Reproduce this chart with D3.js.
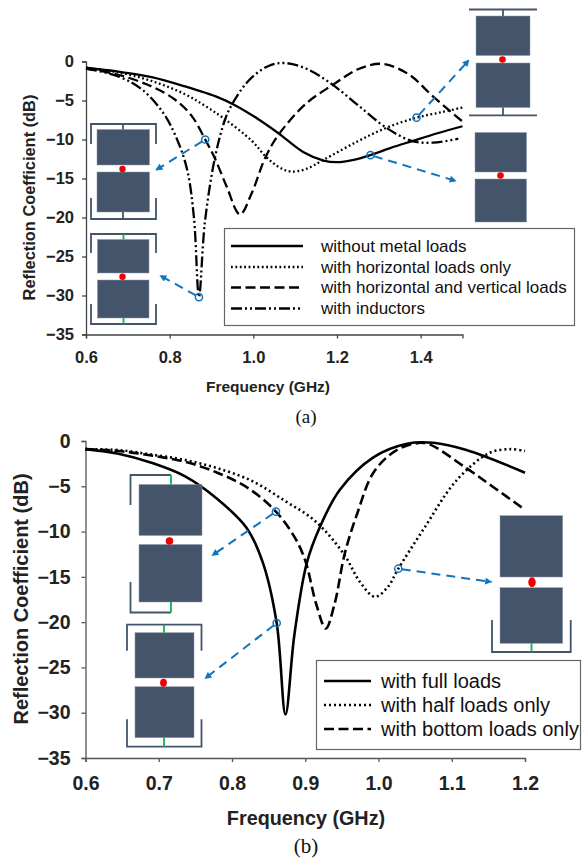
<!DOCTYPE html>
<html>
<head>
<meta charset="utf-8">
<script src="https://cdn.jsdelivr.net/npm/d3@7"></script>
<style>
  html, body { margin: 0; padding: 0; background: #fff; }
  svg { display: block; font-family: "Liberation Sans", Arial, sans-serif; }
</style>
</head>
<body>
<svg id="chart"></svg>
<script>
// Panel (a) values, [GHz, dB]
const noLoads = [[0.6,-0.8],[0.677,-1.3],[0.757,-2.0],[0.837,-3.2],[0.916,-4.6],[0.956,-5.6],[1.012,-7.4],[1.06,-9.2],[1.119,-11.6],[1.168,-12.7],[1.2,-12.9],[1.24,-12.6],[1.28,-12.0],[1.327,-11.1],[1.38,-10.2],[1.44,-9.2],[1.5,-8.3]];
const horizontalOnly = [[0.6,-0.8],[0.677,-1.4],[0.757,-2.5],[0.837,-4.2],[0.885,-5.7],[0.932,-7.4],[0.997,-10.2],[1.03,-12.2],[1.06,-13.5],[1.088,-14.1],[1.125,-13.8],[1.168,-12.6],[1.247,-10.3],[1.318,-8.5],[1.39,-7.2],[1.45,-6.5],[1.5,-5.9]];
const horizontalVertical = [[0.6,-0.9],[0.677,-1.7],[0.757,-3.2],[0.813,-4.9],[0.853,-7.0],[0.885,-10.0],[0.908,-12.4],[0.936,-16.0],[0.968,-19.6],[0.996,-16.9],[1.028,-12.4],[1.06,-9.4],[1.128,-5.3],[1.19,-3.0],[1.25,-1.0],[1.307,-0.3],[1.37,-1.6],[1.43,-4.5],[1.5,-7.7]];
const withInductors = [[0.6,-0.9],[0.677,-1.9],[0.734,-3.6],[0.782,-6.4],[0.813,-9.4],[0.841,-13.7],[0.858,-20.0],[0.87,-30.2],[0.884,-20.7],[0.908,-12.4],[0.932,-7.5],[0.949,-5.5],[0.988,-2.5],[1.035,-0.6],[1.076,-0.2],[1.13,-1.0],[1.19,-3.0],[1.25,-5.6],[1.318,-8.5],[1.38,-10.2],[1.43,-10.4],[1.49,-9.9]];

// Panel (b) values
const fullLoads = [[0.6,-0.9],[0.645,-1.4],[0.69,-2.4],[0.736,-3.9],[0.78,-6.4],[0.82,-9.6],[0.842,-13.4],[0.861,-20.1],[0.873,-30.2],[0.885,-21.5],[0.902,-13.5],[0.92,-9.5],[0.947,-5.4],[0.993,-1.8],[1.039,-0.3],[1.075,-0.2],[1.12,-1.0],[1.2,-3.5]];
const halfLoads = [[0.6,-0.9],[0.645,-1.0],[0.69,-1.5],[0.736,-2.1],[0.78,-3.0],[0.827,-4.4],[0.872,-6.6],[0.913,-8.8],[0.952,-12.4],[0.975,-15.6],[0.995,-17.2],[1.012,-16.2],[1.027,-14.1],[1.061,-9.8],[1.107,-4.3],[1.152,-1.3],[1.18,-0.9],[1.2,-1.1]];
const bottomLoads = [[0.6,-0.9],[0.645,-1.1],[0.69,-1.6],[0.736,-2.3],[0.78,-3.5],[0.822,-5.2],[0.86,-7.8],[0.886,-10.7],[0.9,-13.2],[0.915,-18.0],[0.928,-20.7],[0.94,-18.0],[0.954,-12.4],[0.971,-8.0],[0.993,-3.5],[1.021,-1.2],[1.048,-0.3],[1.067,-0.3],[1.12,-3.0],[1.157,-5.1],[1.2,-7.6]];

const topXTicks = [0.6, 0.8, 1.0, 1.2, 1.4];
const bottomXTicks = [0.6, 0.7, 0.8, 0.9, 1.0, 1.1, 1.2];
const yTicks = [0, -5, -10, -15, -20, -25, -30, -35];

const topLegend = ['without metal loads', 'with horizontal loads only', 'with horizontal and vertical loads', 'with inductors'];
const bottomLegend = ['with full loads', 'with half loads only', 'with bottom loads only'];

const width = 582, height = 860;
const SOLID = null, DOTTED = '1.8 2.6', DOTTED_B = '2 3', DASHED = '10 4.5', DASHDOT = '11 3 2 3 2 3';
const BLUE = '#0f75bd', PATCH = '#44546a', GREEN = '#12b050';

const svg = d3.select('#chart')
  .attr('width', width)
  .attr('height', height)
  .attr('viewBox', [0, 0, width, height]);

const defs = svg.append('defs');
defs.append('marker')
  .attr('id', 'arrow')
  .attr('viewBox', '0 0 10 10')
  .attr('refX', 9)
  .attr('refY', 5)
  .attr('markerWidth', 8)
  .attr('markerHeight', 7)
  .attr('markerUnits', 'userSpaceOnUse')
  .attr('orient', 'auto')
.append('path')
  .attr('d', 'M0,0 L10,5 L0,10 Z')
  .attr('fill', BLUE);

const line = (x, y) => d3.line()
  .x(d => x(d[0]))
  .y(d => y(d[1]))
  .curve(d3.curveCatmullRom.alpha(0.5));

// Draws one panel's axes and curves, returns its scales
function drawPanel({ xDomain, xRange, yRange, xTicks, series, tickSize, yPad, xPad, lineWidth, axisColor, xTitle, yTitle }) {
  const x = d3.scaleLinear(xDomain, xRange);
  const y = d3.scaleLinear([0, -35], yRange);

  svg.append('g')
    .attr('transform', `translate(${xRange[0]},0)`)
    .call(d3.axisLeft(y).tickValues(yTicks).tickSize(4).tickPadding(yPad).tickFormat(d3.format('d')))
    .call(g => g.selectAll('.domain,.tick line').attr('stroke', axisColor).attr('stroke-width', 1.3))
    .call(g => g.selectAll('text').attr('font-size', tickSize).attr('font-weight', 'bold').attr('fill', '#222'));

  svg.append('g')
    .attr('transform', `translate(0,${yRange[1]})`)
    .call(d3.axisBottom(x).tickValues(xTicks).tickSize(4).tickPadding(xPad).tickFormat(d3.format('.1f')))
    .call(g => g.selectAll('.domain,.tick line').attr('stroke', axisColor).attr('stroke-width', 1.3))
    .call(g => g.selectAll('text').attr('font-size', tickSize).attr('font-weight', 'bold').attr('fill', '#222'));

  svg.append('text')
    .attr('x', xTitle.x).attr('y', xTitle.y)
    .attr('text-anchor', 'middle')
    .attr('font-size', xTitle.size).attr('font-weight', 'bold').attr('fill', '#222')
    .text('Frequency (GHz)');

  svg.append('text')
    .attr('transform', `translate(${yTitle.x},${yTitle.y}) rotate(-90)`)
    .attr('text-anchor', 'middle')
    .attr('font-size', yTitle.size).attr('font-weight', 'bold').attr('fill', '#222')
    .text('Reflection Coefficient (dB)');

  svg.append('g')
    .selectAll('path')
    .data(series)
    .join('path')
    .attr('d', d => line(x, y)(d.values))
    .attr('fill', 'none')
    .attr('stroke', '#000')
    .attr('stroke-width', lineWidth)
    .attr('stroke-dasharray', d => d.dash);

  return { x, y };
}

function drawLegend({ x, y, w, h, labels, dashes, rowY, lineX, textX, size, lineWidth }) {
  const g = svg.append('g');
  g.append('rect')
    .attr('x', x).attr('y', y).attr('width', w).attr('height', h)
    .attr('fill', '#fff').attr('stroke', '#666').attr('stroke-width', 1.2);
  labels.forEach((label, i) => {
    g.append('line')
      .attr('x1', lineX[0]).attr('x2', lineX[1])
      .attr('y1', rowY[i]).attr('y2', rowY[i])
      .attr('stroke', '#000').attr('stroke-width', lineWidth)
      .attr('stroke-dasharray', dashes[i]);
    g.append('text')
      .attr('x', textX).attr('y', rowY[i])
      .attr('dy', '0.35em')
      .attr('font-size', size).attr('fill', '#111')
      .text(label);
  });
}

// Blue ring on a curve and the dashed arrow from it to an inset
function callout(scales, point, to) {
  const px = scales.x(point[0]), py = scales.y(point[1]);
  const a = Math.atan2(to[1] - py, to[0] - px);
  svg.append('line')
    .attr('x1', px + 3.5 * Math.cos(a)).attr('y1', py + 3.5 * Math.sin(a))
    .attr('x2', to[0]).attr('y2', to[1])
    .attr('stroke', BLUE).attr('stroke-width', 2)
    .attr('stroke-dasharray', '9 6')
    .attr('marker-end', 'url(#arrow)');
  svg.append('circle')
    .attr('cx', px).attr('cy', py).attr('r', 3.6)
    .attr('fill', 'none').attr('stroke', BLUE).attr('stroke-width', 1.5);
}

// Antenna sketch: two patches, the feed dot and optional metal loads
function inset({ patchX, patch1, patch2, dot, top, bottom }) {
  const g = svg.append('g');
  [patch1, patch2].forEach(p => g.append('rect')
    .attr('x', patchX[0]).attr('y', p[0])
    .attr('width', patchX[1] - patchX[0]).attr('height', p[1] - p[0])
    .attr('fill', PATCH).attr('stroke', '#8a96a6').attr('stroke-width', 0.5));
  g.append('ellipse')
    .attr('cx', dot[0]).attr('cy', dot[1]).attr('rx', dot[2]).attr('ry', dot[3])
    .attr('fill', '#f00000');
  [top, bottom].filter(Boolean).forEach(b => {
    const path = d3.path();
    path.moveTo(b.x0, b.leg);
    path.lineTo(b.x0, b.y);
    path.lineTo(b.x1, b.y);
    if (b.rightLeg !== false) path.lineTo(b.x1, b.leg);
    g.append('path')
      .attr('d', path.toString())
      .attr('fill', 'none').attr('stroke', PATCH).attr('stroke-width', 1.8);
    g.append('line')
      .attr('x1', b.stemX).attr('x2', b.stemX)
      .attr('y1', b.y).attr('y2', b.stemEnd)
      .attr('stroke', b.stemColor).attr('stroke-width', 1.8);
  });
}

// Panel (a)
const panelA = drawPanel({
  xDomain: [0.6, 1.5], xRange: [86, 462.5], yRange: [61.5, 334.5],
  xTicks: topXTicks, tickSize: 16.5, yPad: 8, xPad: 13, lineWidth: 2.3, axisColor: '#444',
  xTitle: { x: 268, y: 392, size: 15.5 },
  yTitle: { x: 35, y: 197.5, size: 16.4 },
  series: [
    { values: noLoads, dash: SOLID },
    { values: horizontalOnly, dash: DOTTED },
    { values: horizontalVertical, dash: DASHED },
    { values: withInductors, dash: DASHDOT }
  ]
});

drawLegend({
  x: 224.5, y: 228.5, w: 350, h: 97,
  labels: topLegend, dashes: [SOLID, DOTTED, DASHED, DASHDOT],
  rowY: [246, 267, 287.5, 308.5], lineX: [231, 303], textX: 321, size: 17, lineWidth: 2.3
});

inset({
  patchX: [476, 530], patch1: [16, 55.5], patch2: [63, 107.5], dot: [502.5, 59.5, 3.3, 3.3],
  top: { x0: 469, x1: 537, y: 9.5, leg: 9.5, stemX: 503, stemEnd: 16, stemColor: PATCH },
  bottom: { x0: 469, x1: 537, y: 115.3, leg: 115.3, stemX: 503, stemEnd: 107.5, stemColor: PATCH }
});
inset({ patchX: [475, 526.5], patch1: [132.5, 172], patch2: [179, 222], dot: [500.5, 175.5, 3.3, 3.3] });
inset({
  patchX: [97, 149.5], patch1: [129.5, 165], patch2: [172, 212], dot: [122.5, 169, 3.2, 3.2],
  top: { x0: 91, x1: 156, y: 124, leg: 144, stemX: 123, stemEnd: 129.5, stemColor: PATCH },
  bottom: { x0: 91, x1: 156, y: 219, leg: 198, stemX: 123, stemEnd: 212, stemColor: PATCH }
});
inset({
  patchX: [97.5, 149], patch1: [239.5, 273], patch2: [280, 318], dot: [122.5, 276.7, 3.2, 3.2],
  top: { x0: 91, x1: 156, y: 234, leg: 253, stemX: 123.5, stemEnd: 239.5, stemColor: GREEN },
  bottom: { x0: 91, x1: 156, y: 324, leg: 304, stemX: 123.5, stemEnd: 318, stemColor: GREEN }
});

callout(panelA, [1.39, -7.2], [469, 60]);
callout(panelA, [1.28, -12.0], [456, 181]);
callout(panelA, [0.885, -10.0], [156, 170]);
callout(panelA, [0.87, -30.2], [160, 275.5]);

svg.append('text')
  .attr('x', 306).attr('y', 423)
  .attr('text-anchor', 'middle')
  .attr('font-family', '"Liberation Serif", serif')
  .attr('font-size', 19).attr('fill', '#111')
  .text('(a)');

// Panel (b)
const panelB = drawPanel({
  xDomain: [0.6, 1.2], xRange: [85.5, 525], yRange: [441, 758],
  xTicks: bottomXTicks, tickSize: 19.5, yPad: 11, xPad: 14, lineWidth: 2.6, axisColor: '#555',
  xTitle: { x: 306, y: 825, size: 19.8 },
  yTitle: { x: 28, y: 599, size: 20 },
  series: [
    { values: fullLoads, dash: SOLID },
    { values: halfLoads, dash: DOTTED_B },
    { values: bottomLoads, dash: DASHED }
  ]
});

drawLegend({
  x: 316.5, y: 660.5, w: 264, h: 89,
  labels: bottomLegend, dashes: [SOLID, DOTTED_B, DASHED],
  rowY: [681, 705, 729], lineX: [324, 371], textX: 381, size: 20, lineWidth: 2.6
});

inset({
  patchX: [139, 202], patch1: [484.5, 535.5], patch2: [544.5, 602], dot: [169.5, 541, 3.8, 3.8],
  top: { x0: 130.5, x1: 171, y: 475, leg: 505, rightLeg: false, stemX: 171, stemEnd: 484.5, stemColor: GREEN },
  bottom: { x0: 130.5, x1: 171, y: 612.5, leg: 582, rightLeg: false, stemX: 171, stemEnd: 602, stemColor: GREEN }
});
inset({
  patchX: [135, 194], patch1: [632.7, 678], patch2: [686.7, 737.7], dot: [163.5, 682.7, 3.4, 4],
  top: { x0: 127, x1: 201.5, y: 624.7, leg: 650.7, stemX: 164, stemEnd: 632.7, stemColor: GREEN },
  bottom: { x0: 127, x1: 201.5, y: 746.7, leg: 719.3, stemX: 164, stemEnd: 737.7, stemColor: GREEN }
});
inset({
  patchX: [500, 562.7], patch1: [515.7, 577], patch2: [587.7, 643.3], dot: [532, 582.3, 3.7, 5],
  bottom: { x0: 492, x1: 570.7, y: 652, leg: 620, stemX: 531.5, stemEnd: 643.3, stemColor: GREEN }
});

callout(panelB, [0.86, -7.8], [212, 555.5]);
callout(panelB, [0.861, -20.1], [205, 678.5]);
callout(panelB, [1.027, -14.1], [491.5, 582]);

svg.append('text')
  .attr('x', 306).attr('y', 853)
  .attr('text-anchor', 'middle')
  .attr('font-family', '"Liberation Serif", serif')
  .attr('font-size', 21).attr('fill', '#111')
  .text('(b)');
</script>
</body>
</html>
